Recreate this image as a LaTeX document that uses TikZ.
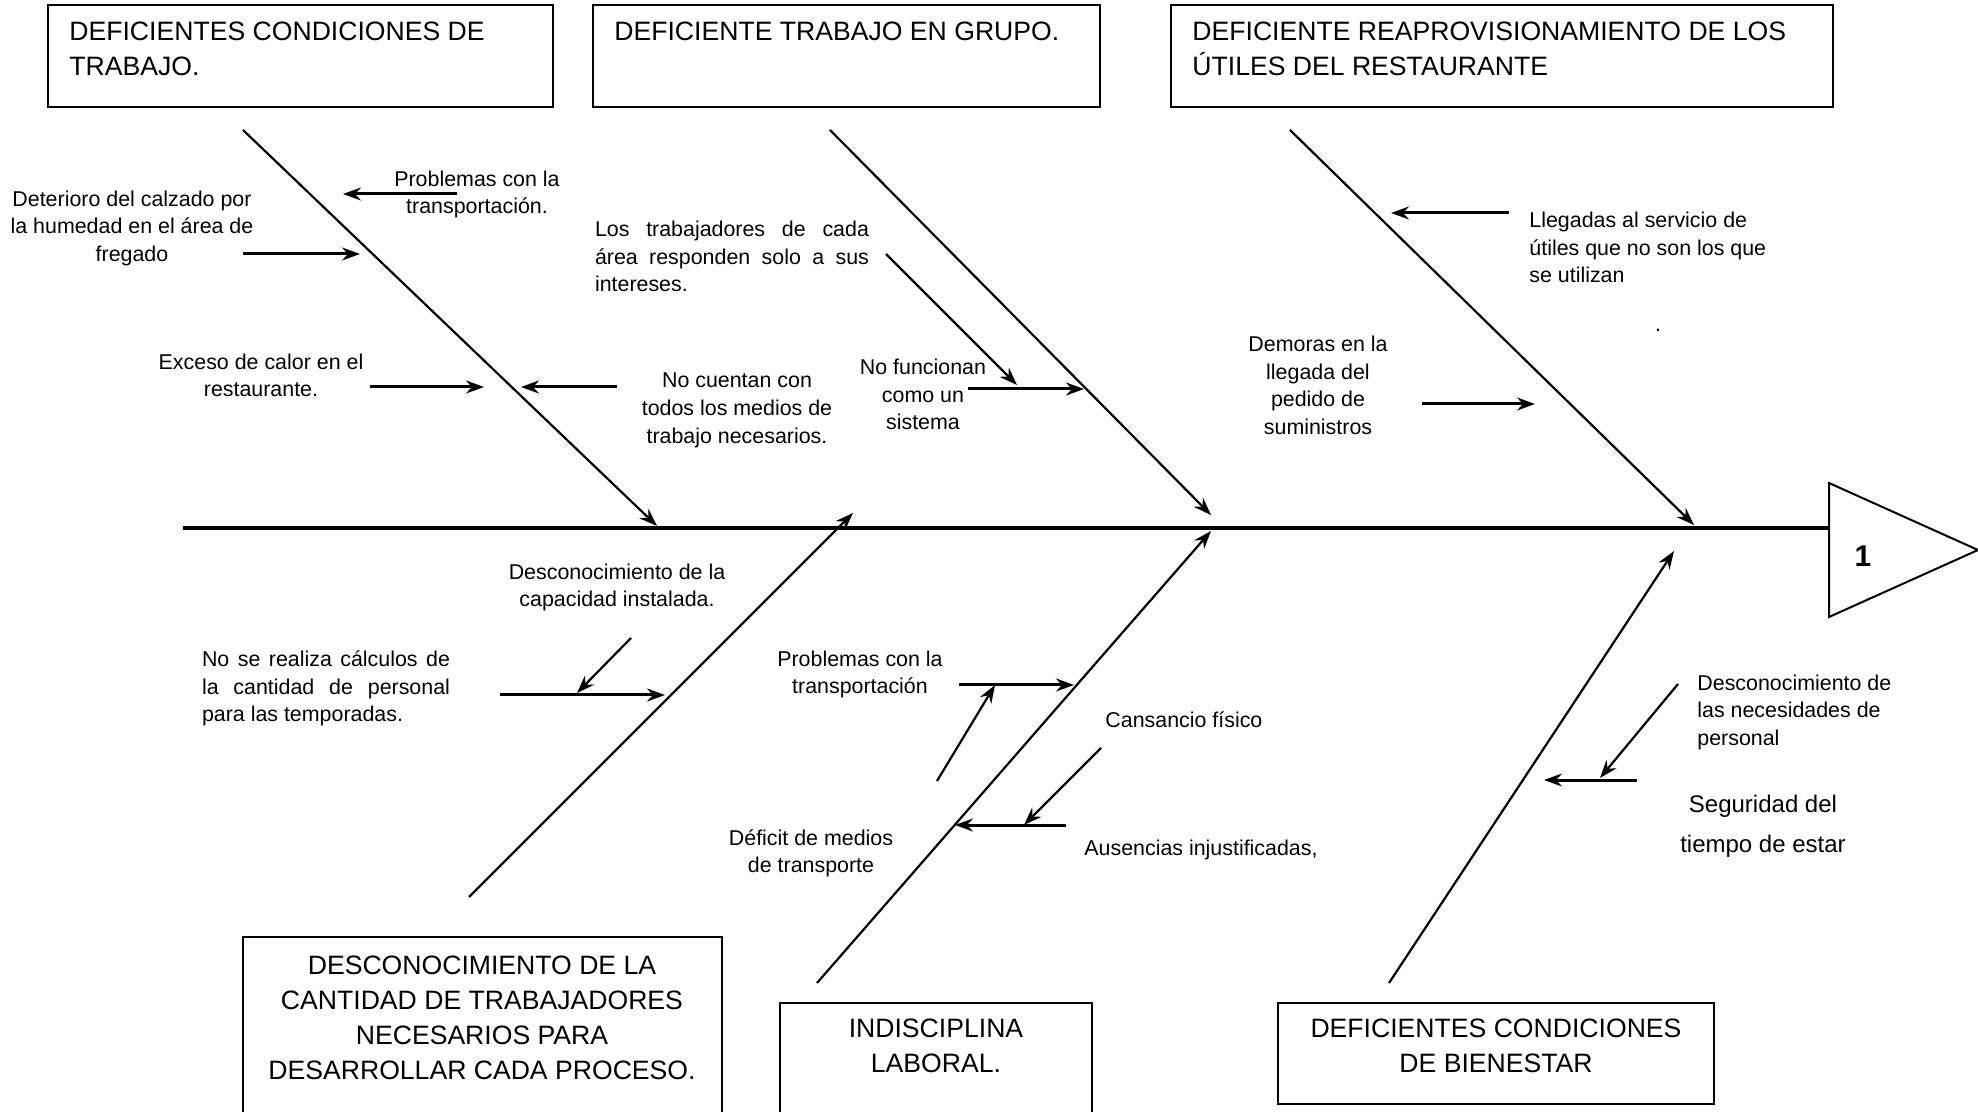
\documentclass[tikz,border=0pt]{standalone}
\usepackage{fontspec}
\setmainfont{Liberation Sans}
\usetikzlibrary{arrows.meta}

\begin{document}
\begin{tikzpicture}[x=0.5pt,y=-0.5pt,
box/.style={draw,line width=1pt},
causa/.style={font=\fontsize{13.3}{17.5}\selectfont,inner sep=0pt},
nota/.style={font=\fontsize{10.7}{13.9}\selectfont,inner sep=0pt,align=center,yshift=-1.2pt},
espina/.style={line width=1.1pt,-{Stealth[length=9pt,width=6.5pt,inset=3pt]}},
flecha/.style={line width=1.5pt,-{Stealth[length=9pt,width=6.5pt,inset=3pt]}},
]
\useasboundingbox (0,0) rectangle (1978,1112);
\clip (0,0) rectangle (1978,1112);

% cajas de las causas
\path[box]
    (48,5) rectangle (553,107)
    (593,5) rectangle (1100,107)
    (1171,5) rectangle (1833,107)
    (243,937) rectangle (722,1130)
    (780,1003) rectangle (1092,1130)
    (1278,1003) rectangle (1714,1104);
\node[causa,align=left,anchor=north west] (c1) at (69,22)
    {DEFICIENTES CONDICIONES DE\\TRABAJO.};
\node[causa,align=left,anchor=north west] (c2) at (614,22)
    {DEFICIENTE TRABAJO EN GRUPO.};
\node[causa,align=left,anchor=north west] (c3) at (1192,22)
    {DEFICIENTE REAPROVISIONAMIENTO DE LOS\\ÚTILES DEL RESTAURANTE};
\node[causa,align=center] (c4) at (482,1018)
    {DESCONOCIMIENTO DE LA\\CANTIDAD DE TRABAJADORES\\NECESARIOS PARA\\DESARROLLAR CADA PROCESO.};
\node[causa,align=center] (c5) at (936,1046) {INDISCIPLINA\\LABORAL.};
\node[causa,align=center] (c6) at (1496,1046) {DEFICIENTES CONDICIONES\\DE BIENESTAR};

% cabeza y espina central
\draw[line width=1pt] (1829,483) coordinate (hA) -- (1978,550) -- (1829,617) -- cycle;
\node[font=\fontsize{15}{15}\selectfont\bfseries] (efecto) at (1863,556) {1};
\coordinate (s0) at (183,528);
\coordinate (s1) at (1829,528);
\draw[line width=2.2pt] (s0) -- (s1);

% espinas
\path (243,130) coordinate (t1a) (657,526) coordinate (t1b)
      (830,130) coordinate (t2a) (1211,515) coordinate (t2b)
      (1290,130) coordinate (t3a) (1694,525) coordinate (t3b)
      (469,897) coordinate (b1a) (853,513) coordinate (b1b)
      (817,983) coordinate (b2a) (1211,531) coordinate (b2b)
      (1389,983) coordinate (b3a) (1674,551) coordinate (b3b);
\draw[espina] (t1a) -- (t1b);
\draw[espina] (t2a) -- (t2b);
\draw[espina] (t3a) -- (t3b);
\draw[espina] (b1a) -- (b1b);
\draw[espina] (b2a) -- (b2b);
\draw[espina] (b3a) -- (b3b);

% subcausas
\node[nota] (n1) at (477,192) {Problemas con la\\transportación.};
\node[nota] (n2) at (132,226) {Deterioro del calzado por\\la humedad en el área de\\fregado};
\node[nota] (n3) at (261,373) {Exceso de calor en el\\restaurante.};
\node[nota] (n4) at (737,408) {No cuentan con\\todos los medios de\\trabajo necesarios.};
\node[nota,text width=137pt,align=justify] (n5) at (732,254)
    {Los trabajadores de cada\linebreak área responden solo a sus\linebreak intereses.};
\node[nota] (n6) at (923,392) {No funcionan\\como un\\sistema};
\node[nota,align=left,anchor=west] (n7) at (1529,245)
    {Llegadas al servicio de\\útiles que no son los que\\se utilizan};
\node[nota] (n8) at (1658,328) {.};
\node[nota] (n9) at (1318,383) {Demoras en la\\llegada del\\pedido de\\suministros};
\node[nota] (n10) at (617,585) {Desconocimiento de la\\capacidad instalada.};
\node[nota,text width=124pt,align=justify] (n11) at (326,686)
    {No se realiza cálculos de\linebreak la cantidad de personal\linebreak para las temporadas.};
\node[nota] (n12) at (860,672) {Problemas con la\\transportación};
\node[nota,anchor=west] (n13) at (1105,717) {Cansancio físico};
\node[nota,anchor=west] (n14) at (1084,848) {Ausencias injustificadas,};
\node[nota] (n15) at (811,851) {Déficit de medios\\de transporte};
\node[nota,align=left,anchor=west] (n16) at (1697,710)
    {Desconocimiento de\\las necesidades de\\personal};
\node[nota,font=\fontsize{12}{20}\selectfont] (n17) at (1763,824)
    {Seguridad del\\tiempo de estar};

% flechas de las subcausas
\path (457,194) coordinate (a1) (343,194) coordinate (e1)
      (243,254) coordinate (a2) (360,254) coordinate (e2)
      (370,387) coordinate (a3) (484,387) coordinate (e3)
      (617,387) coordinate (a4) (521,387) coordinate (e4)
      (886,254) coordinate (a5) (1017,385) coordinate (e5)
      (968,389) coordinate (a6) (1084,389) coordinate (e6)
      (1509,213) coordinate (a7) (1391,213) coordinate (e7)
      (1422,404) coordinate (a8) (1535,404) coordinate (e8)
      (500,695) coordinate (a9) (665,695) coordinate (e9)
      (631,638) coordinate (a10) (577,693) coordinate (e10)
      (959,685) coordinate (a11) (1074,685) coordinate (e11)
      (937,781) coordinate (a12) (995,685) coordinate (e12)
      (1101,748) coordinate (a13) (1024,825) coordinate (e13)
      (1066,825) coordinate (a14) (955,825) coordinate (e14)
      (1678,684) coordinate (a15) (1600,778) coordinate (e15)
      (1637,780) coordinate (a16) (1544,780) coordinate (e16);
\foreach \i in {1,2,3,4,6,7,8,9,11,14,16}
    \draw[flecha] (a\i) -- (e\i);
\foreach \i in {5,10,12,13,15}
    \draw[espina] (a\i) -- (e\i);
\end{tikzpicture}
\end{document}
